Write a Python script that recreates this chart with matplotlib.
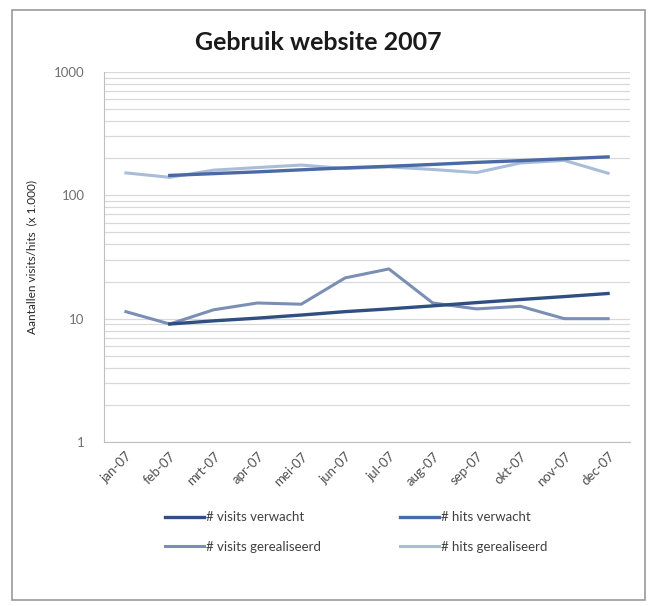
import matplotlib
matplotlib.use("Agg")
import matplotlib.pyplot as plt
from matplotlib.ticker import LogLocator, FixedLocator, NullFormatter
from matplotlib.patches import Rectangle

months = ["jan-07", "feb-07", "mrt-07", "apr-07", "mei-07", "jun-07",
          "jul-07", "aug-07", "sep-07", "okt-07", "nov-07", "dec-07"]
visits_verwacht = [None, 9.05, 9.6, 10.1, 10.7, 11.4, 12.0, 12.7, 13.5, 14.3, 15.1, 16.0]
hits_verwacht = [None, 145, 150, 155, 161, 167, 172, 178, 185, 191, 198, 205]
visits_gerealiseerd = [11.4, 9.05, 11.8, 13.4, 13.1, 21.4, 25.3, 13.4, 12.0, 12.6, 10.0, 10.0]
hits_gerealiseerd = [152, 140, 160, 168, 176, 165, 170, 162, 153, 183, 192, 151]
yticks = [1, 10, 100, 1000]
ytick_labels = ["1", "10", "100", "1000"]

plt.rcParams['font.family'] = ['Lato', 'DejaVu Sans']

fig = plt.figure(figsize=(6.57, 6.06), dpi=100)
fig.patches.append(Rectangle((12/657, 1-600/606), (645-12)/657, (600-10)/606,
                             transform=fig.transFigure, fill=False,
                             edgecolor="#9a9a9a", linewidth=1.2))
ax = fig.add_axes([104/657, 1-442/606, (630-104)/657, (442-72)/606])

x = list(range(len(months)))

def clean(vals):
    xs = [i for i, v in zip(x, vals) if v is not None]
    ys = [v for v in vals if v is not None]
    return xs, ys

ax.plot(*clean(hits_gerealiseerd), color="#a9bcd8", lw=2.2, label="# hits gerealiseerd", zorder=3)
ax.plot(*clean(visits_gerealiseerd), color="#7b8fb5", lw=2.2, label="# visits gerealiseerd", zorder=3)
ax.plot(*clean(hits_verwacht), color="#4a6aa5", lw=2.4, label="# hits verwacht", zorder=4)
ax.plot(*clean(visits_verwacht), color="#2f4f80", lw=2.4, label="# visits verwacht", zorder=4)

ax.set_yscale("log")
ax.set_ylim(1, 1000)
ax.set_xlim(-0.5, 11.5)
ax.yaxis.set_major_locator(FixedLocator(yticks))
ax.set_yticklabels(ytick_labels)
ax.yaxis.set_minor_locator(LogLocator(base=10, subs=range(2, 10)))
ax.yaxis.set_minor_formatter(NullFormatter())
ax.grid(True, which="both", axis="y", color="#d9d9d9", lw=0.9)
ax.set_axisbelow(True)
ax.tick_params(axis="y", which="both", length=0, labelsize=9.5, labelcolor="#707070", pad=14)
ax.set_xticks(x)
ax.set_xticklabels(months, rotation=45, ha="right", rotation_mode="anchor",
                   fontsize=9.5, color="#505050")
ax.tick_params(axis="x", length=0, pad=6)
for s in ["top", "right"]:
    ax.spines[s].set_visible(False)
for s in ["left", "bottom"]:
    ax.spines[s].set_color("#bfbfbf")

ax.set_ylabel("Aantallen visits/hits  (x 1.000)", fontsize=8.5, color="#262626", labelpad=12)

fig.text(318/657, 1-43/606, "Gebruik website 2007", ha="center", va="center",
         fontsize=18, fontweight="bold", color="#1a1a1a")

h, l = ax.get_legend_handles_labels()
leg = fig.legend([h[i] for i in [3, 1, 2, 0]], [l[i] for i in [3, 1, 2, 0]],
                 ncol=2, loc="center", bbox_to_anchor=(356/657, 1-532/606),
                 frameon=False, fontsize=9.5, handlelength=3.0, handletextpad=0.1,
                 columnspacing=6.0, labelspacing=1.3)
for t in leg.get_texts():
    t.set_color("#404040")

fig.savefig("out.png", dpi=100)
